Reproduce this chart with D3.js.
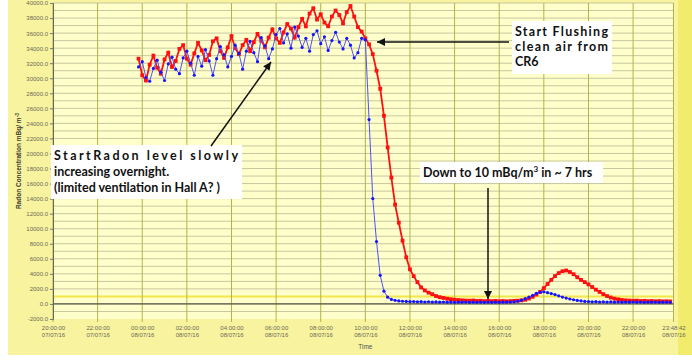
<!DOCTYPE html>
<html>
<head>
<meta charset="utf-8">
<script src="https://cdn.jsdelivr.net/npm/d3@7"></script>
<style>
  html, body { margin: 0; padding: 0; background: #ffffff; }
  svg { display: block; }
  .tick text { font-family: "Liberation Sans", Arial, sans-serif; }
  .note { font-family: Lato, "Noto Sans", sans-serif; font-weight: bold; fill: #111; }
</style>
</head>
<body>
<svg id="chart" width="692" height="360"></svg>
<script>
// Radon concentration (mBq/m^3), one reading every 10 minutes from 23:50 07/07/16
const seriesStart = new Date(2016, 6, 7, 23, 50, 0);
const stepMinutes = 10;

// Hall A sampling line (red)
const redValues = [
  32600, 30400, 29700, 31800, 33000, 31400, 30600, 32500, 33400, 31500,
  32300, 33900, 34400, 32600, 31800, 33300, 34700, 33700, 32400, 33100,
  34900, 35300, 33600, 32700, 34100, 35600, 34000, 33200, 34400, 35100,
  33600, 34800, 35900, 35000, 34100, 35400, 36500, 35300, 34700, 36100,
  37200, 36600, 35400, 36800, 37900, 36900, 38600, 39300, 37800, 38500,
  37400, 36900, 38200, 39000, 38400, 37300, 38800, 39600, 38200, 36800,
  36200, 35300, 34500, 33200, 31000, 28600, 25000, 20800, 16800, 13200,
  10800, 8400, 6200, 4600, 3700, 2900, 2200, 1800, 1500, 1300,
  1050, 900, 800, 700, 620, 560, 520, 480, 450, 430,
  460, 400, 420, 380, 410, 370, 400, 360, 390, 350,
  380, 410, 430, 480, 560, 720, 950, 1250, 1600, 2100,
  2650, 3200, 3700, 4100, 4350, 4450, 4250, 3950, 3550, 3200,
  2900, 2600, 2250, 1900, 1600, 1300, 1050, 850, 700, 610,
  530, 480, 450, 420, 440, 390, 410, 370, 390, 350,
  380, 340, 360, 330
];

// Second detector (blue)
const blueValues = [
  31500, 32200, 30100, 29600, 31300, 32400, 30800, 29700, 31900, 32800,
  31200, 30600, 32700, 33600, 32000, 30400, 32900, 31600, 33800, 32300,
  30400, 32600, 34200, 33100, 31500, 32900, 34400, 33300, 31200, 33600,
  34900, 33400, 32200, 35400, 34300, 32600, 33900, 35800, 36600, 34700,
  35900, 34000, 36800, 35600, 34100, 35300, 33600, 35800, 36300, 34600,
  35500, 33700, 35000, 36100, 34800, 33900, 35300, 34400, 32700, 33400,
  35300, 35100, 24500, 14000, 8300, 3800, 1700, 900, 600, 480,
  400, 360, 330, 300, 320, 280, 300, 260, 290, 250,
  270, 240, 260, 230, 250, 220, 240, 230, 250, 220,
  240, 210, 230, 220, 240, 210, 230, 220, 240, 230,
  250, 280, 360, 500, 700, 920, 1150, 1400, 1550, 1620,
  1500, 1380, 1250, 1080, 920, 780, 660, 560, 470, 400,
  340, 310, 280, 300, 260, 280, 250, 270, 240, 260,
  230, 250, 240, 260, 230, 250, 220, 240, 230, 250,
  220, 240, 230, 220
];

// Axis ticks
const xTickTimes = [
  new Date(2016, 6, 7, 20, 0, 0), new Date(2016, 6, 7, 22, 0, 0),
  new Date(2016, 6, 8, 0, 0, 0), new Date(2016, 6, 8, 2, 0, 0),
  new Date(2016, 6, 8, 4, 0, 0), new Date(2016, 6, 8, 6, 0, 0),
  new Date(2016, 6, 8, 8, 0, 0), new Date(2016, 6, 8, 10, 0, 0),
  new Date(2016, 6, 8, 12, 0, 0), new Date(2016, 6, 8, 14, 0, 0),
  new Date(2016, 6, 8, 16, 0, 0), new Date(2016, 6, 8, 18, 0, 0),
  new Date(2016, 6, 8, 20, 0, 0), new Date(2016, 6, 8, 22, 0, 0),
  new Date(2016, 6, 8, 23, 48, 42)
];
const yTickValues = d3.range(-2000, 40001, 2000);
const yGridValues = d3.range(-1000, 40001, 1000);

const svg = d3.select("#chart");
const W = 692;

const x = d3.scaleTime()
  .domain([new Date(2016, 6, 7, 20, 0, 0), new Date(2016, 6, 8, 23, 48, 42)])
  .range([53, 673.5]);
const y = d3.scaleLinear().domain([-2000, 40000]).range([319, 3]);

const timeAt = i => new Date(seriesStart.getTime() + i * stepMinutes * 60000);
const red = redValues.map((v, i) => ({ t: timeAt(i), v }));
const blue = blueValues.map((v, i) => ({ t: timeAt(i), v }));

// Frame and plotting area
svg.append("rect").attr("x", 8).attr("y", 0).attr("width", W - 8).attr("height", 355)
  .attr("fill", "#f8f39e");
svg.append("rect").attr("x", 678).attr("y", 0).attr("width", 14).attr("height", 355)
  .attr("fill", "#f2ec6c");
svg.append("rect")
  .attr("x", x.range()[0]).attr("y", y.range()[1])
  .attr("width", x.range()[1] - x.range()[0]).attr("height", y.range()[0] - y.range()[1])
  .attr("fill", "#ffffcc");

// Grid
const grid = svg.append("g");
grid.selectAll("line.h").data(yGridValues).join("line")
  .attr("x1", x.range()[0]).attr("x2", x.range()[1])
  .attr("y1", d => y(d)).attr("y2", d => y(d))
  .attr("stroke", d => d === 1000 ? "#f2e64a" : "#b9b994")
  .attr("stroke-width", d => d === 1000 ? 2 : 0.8);
grid.selectAll("line.v").data(xTickTimes).join("line")
  .attr("x1", d => x(d)).attr("x2", d => x(d))
  .attr("y1", y.range()[1]).attr("y2", y.range()[0] + 3)
  .attr("stroke", "#b3b24a").attr("stroke-width", 1);
svg.append("line")
  .attr("x1", x.range()[0]).attr("x2", x.range()[1])
  .attr("y1", y(0)).attr("y2", y(0))
  .attr("stroke", "#55554a").attr("stroke-width", 1.2);

// Y axis
const yAxis = svg.append("g").attr("transform", `translate(${x.range()[0]},0)`)
  .call(d3.axisLeft(y).tickValues(yTickValues).tickFormat(d => d.toFixed(1)).tickSize(3).tickPadding(2));
yAxis.select(".domain").attr("stroke", "#666");
yAxis.selectAll(".tick line").attr("stroke", "#777");
yAxis.selectAll(".tick text").attr("font-size", 6).attr("fill", "#6a6a5a");

// X axis with two-line labels
const fmtTime = d3.timeFormat("%H:%M:%S");
const fmtDate = d3.timeFormat("%d/%m/%y");
const xAxis = svg.append("g").attr("transform", `translate(0,${y.range()[0]})`)
  .call(d3.axisBottom(x).tickValues(xTickTimes).tickFormat("").tickSize(0));
xAxis.select(".domain").remove();
xAxis.selectAll(".tick").each(function (d) {
  const t = d3.select(this).append("text").attr("fill", "#6a6a5a").attr("font-size", 6)
    .attr("text-anchor", "middle");
  t.append("tspan").attr("x", 0).attr("y", 11).text(fmtTime(d));
  t.append("tspan").attr("x", 0).attr("y", 18).text(fmtDate(d));
});
svg.append("text").attr("x", x(new Date(2016, 6, 8, 10, 0, 0))).attr("y", 349)
  .attr("text-anchor", "middle").attr("font-size", 6.5)
  .attr("font-family", "Liberation Sans, Arial, sans-serif").attr("fill", "#555")
  .text("Time");

// Y title
const yTitle = svg.append("text")
  .attr("transform", `translate(21,${(y.range()[0] + y.range()[1]) / 2}) rotate(-90)`)
  .attr("text-anchor", "middle").attr("font-size", 6.5).attr("font-weight", "bold")
  .attr("font-family", "Liberation Sans, Arial, sans-serif").attr("fill", "#3a3a30");
yTitle.append("tspan").text("Radon Concentration  mBq/ m");
yTitle.append("tspan").attr("dy", -2.5).attr("font-size", 5).text("-3");

// Series
const line = d3.line().x(d => x(d.t)).y(d => y(d.v));
svg.append("path").datum(red).attr("d", line)
  .attr("fill", "none").attr("stroke", "#ff1010").attr("stroke-width", 1.8);
svg.append("g").selectAll("rect").data(red).join("rect")
  .attr("x", d => x(d.t) - 1.9).attr("y", d => y(d.v) - 1.9)
  .attr("width", 3.8).attr("height", 3.8).attr("fill", "#ff1010");

svg.append("path").datum(blue).attr("d", line)
  .attr("fill", "none").attr("stroke", "#5050ff").attr("stroke-width", 1);
svg.append("g").selectAll("circle").data(blue).join("circle")
  .attr("cx", d => x(d.t)).attr("cy", d => y(d.v)).attr("r", 1.6)
  .attr("fill", "#1414ff");

// Annotations
const defs = svg.append("defs");
defs.append("marker").attr("id", "head").attr("viewBox", "0 0 10 10")
  .attr("refX", 10).attr("refY", 5).attr("markerWidth", 9).attr("markerHeight", 8)
  .attr("markerUnits", "userSpaceOnUse").attr("orient", "auto")
  .append("path").attr("d", "M0,0 L10,5 L0,10 Z").attr("fill", "#111");

function arrow(x1, y1, x2, y2) {
  svg.append("line").attr("x1", x1).attr("y1", y1).attr("x2", x2).attr("y2", y2)
    .attr("stroke", "#111").attr("stroke-width", 1.5).attr("marker-end", "url(#head)");
}

// Flushing note
svg.append("rect").attr("x", 512).attr("y", 21).attr("width", 100).attr("height", 53).attr("fill", "#fff");
const flush = [["Start  Flushing", 36, true], ["clean  air  from", 51, true], ["CR6", 66, false]];
flush.forEach(([s, yy, stretch]) => {
  const t = svg.append("text").attr("class", "note").attr("x", 515).attr("y", yy)
    .attr("font-size", 12.5).text(s);
  if (stretch) t.attr("textLength", 93).attr("lengthAdjust", "spacing");
});
arrow(509, 42, 377, 42);

// Overnight note
svg.append("rect").attr("x", 51).attr("y", 145).attr("width", 191).attr("height", 54).attr("fill", "#fff");
svg.append("text").attr("class", "note").attr("x", 54).attr("y", 160).attr("font-size", 12.5)
  .attr("textLength", 184).attr("lengthAdjust", "spacing").text("StartRadon  level  slowly");
svg.append("text").attr("class", "note").attr("x", 54).attr("y", 176).attr("font-size", 12.5)
  .text("increasing overnight.");
svg.append("text").attr("class", "note").attr("x", 54).attr("y", 192).attr("font-size", 12.5)
  .text("(limited ventilation in Hall A? )");
arrow(211, 146, 271, 62);

// Recovery note
svg.append("rect").attr("x", 420).attr("y", 162).attr("width", 183).attr("height", 21).attr("fill", "#fff");
const down = svg.append("text").attr("class", "note").attr("x", 423).attr("y", 177).attr("font-size", 12.5);
down.append("tspan").text("Down to 10 mBq/m");
down.append("tspan").attr("dy", -5).attr("font-size", 8).text("3");
down.append("tspan").attr("dy", 5).text(" in ~ 7 hrs");
arrow(488, 188, 488, 299);
</script>
</body>
</html>
